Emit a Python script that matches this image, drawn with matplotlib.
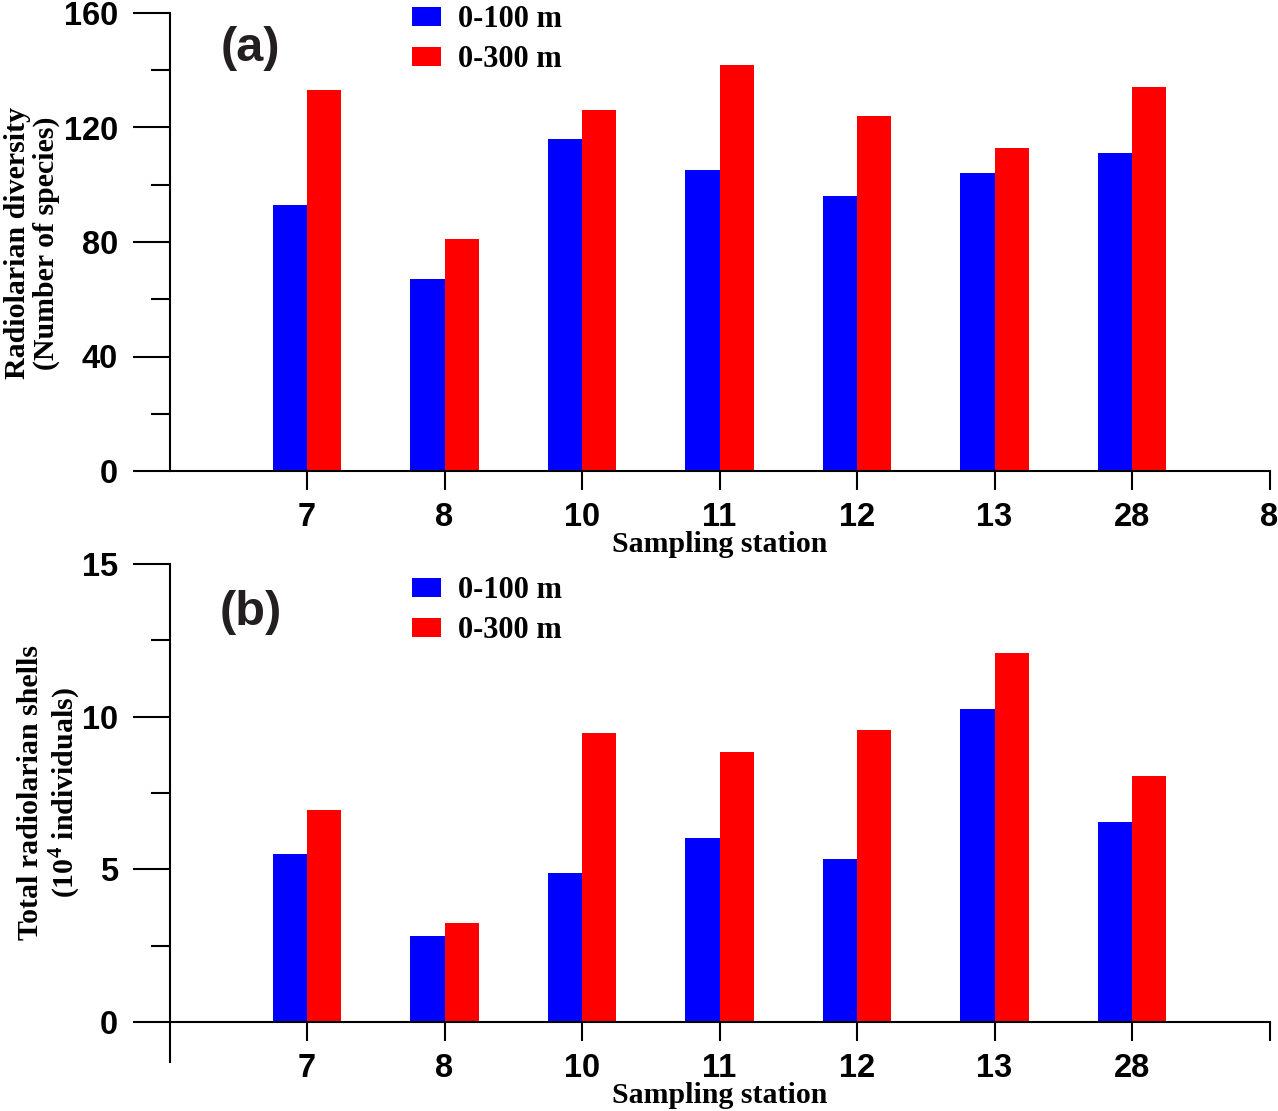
import matplotlib
matplotlib.use("Agg")
import matplotlib.pyplot as plt
from matplotlib.patches import Patch
from matplotlib.ticker import MultipleLocator

# data
stations = ["7", "8", "10", "11", "12", "13", "28"]
diversity_100 = [93, 67, 116, 105, 96, 104, 111]
diversity_300 = [133, 81, 126, 142, 124, 113, 134]
shells_100 = [5.50, 2.82, 4.88, 6.03, 5.34, 10.25, 6.55]
shells_300 = [6.94, 3.24, 9.47, 8.84, 9.56, 12.09, 8.06]
series_names = ["0-100 m", "0-300 m"]
top_ticklabels = stations + ["8"]
bottom_ticklabels = stations + [""]

plt.rcParams["mathtext.fontset"] = "custom"
plt.rcParams["mathtext.rm"] = "Liberation Serif:bold"
plt.rcParams["mathtext.bf"] = "Liberation Serif:bold"

tick_font = dict(family="Liberation Sans", weight="bold", size=23.5)
serif_font = dict(family="Liberation Serif", weight="bold", size=21.5)
blue = "#0000ff"
red = "#ff0000"
W = 1278
H = 1111

fig = plt.figure(figsize=(W / 100, H / 100), dpi=100)
ax1 = fig.add_axes([169.5 / W, 1 - 471 / H, 1100 / W, 458 / H])
ax2 = fig.add_axes([169.5 / W, 1 - 1062 / H, 1100 / W, 498 / H])

x = list(range(1, len(stations) + 1))
bw = 0.25


def style_axis(ax, ticklabels, major, minor):
    for s in ["top", "right"]:
        ax.spines[s].set_visible(False)
    for s in ["left", "bottom"]:
        ax.spines[s].set_linewidth(1.5)
    ax.set_xlim(0, 8)
    ax.set_xticks(range(1, 9))
    ax.set_xticklabels(ticklabels, **tick_font)
    ax.yaxis.set_major_locator(MultipleLocator(major))
    ax.yaxis.set_minor_locator(MultipleLocator(minor))
    ax.tick_params(axis="x", direction="out", length=14, width=1.5, pad=8)
    ax.tick_params(axis="y", which="major", direction="out", length=27, width=1.5, pad=10)
    ax.tick_params(axis="y", which="minor", direction="out", length=14, width=1.5)
    for lab in ax.get_yticklabels():
        lab.set_fontproperties(matplotlib.font_manager.FontProperties(**tick_font))
    ax.set_xlabel("Sampling station", labelpad=-1, **serif_font)


# (a) diversity
ax1.bar([i - bw / 2 for i in x], diversity_100, bw, color=blue, label=series_names[0])
ax1.bar([i + bw / 2 for i in x], diversity_300, bw, color=red, label=series_names[1])
ax1.set_ylim(0, 160)
style_axis(ax1, top_ticklabels, 40, 20)
ax1.text(0.59, 147.5, "(a)", color="#231f20", ha="center", va="center",
         family="Liberation Sans", weight="bold", size=35)

# (b) total shells
ax2.bar([i - bw / 2 for i in x], shells_100, bw, color=blue, label=series_names[0])
ax2.bar([i + bw / 2 for i in x], shells_300, bw, color=red, label=series_names[1])
ax2.set_ylim(-1.31, 15)
ax2.spines["bottom"].set_position(("data", 0))
ax2.spines["left"].set_bounds(-1.31, 15)
style_axis(ax2, bottom_ticklabels, 5, 2.5)
ax2.set_yticks([0, 5, 10, 15])
for lab in ax2.get_yticklabels():
    lab.set_fontproperties(matplotlib.font_manager.FontProperties(**tick_font))
ax2.text(0.59, 13.4, "(b)", color="#231f20", ha="center", va="center",
         family="Liberation Sans", weight="bold", size=35)

handles = [Patch(facecolor=blue), Patch(facecolor=red)]
leg_font = matplotlib.font_manager.FontProperties(family="Liberation Serif", weight="bold", size=22)
for ax, top in [(ax1, 1 - 5 / H), (ax2, 1 - 576 / H)]:
    ax.legend(handles, series_names, loc="upper left", bbox_to_anchor=(412 / W, top),
              bbox_transform=fig.transFigure, frameon=False, prop=leg_font,
              handlelength=0.95, handleheight=0.56, handletextpad=0.55,
              labelspacing=0.37, borderpad=0, borderaxespad=0)

fig.text(32 / W, 1 - 243 / H, "Radiolarian diversity\n(Number of species)",
         rotation=90, ha="center", va="center", ma="center", linespacing=1.1, **serif_font)
fig.text(50 / W, 1 - 793 / H, "Total radiolarian shells\n(10$^{4}$ individuals)",
         rotation=90, ha="center", va="center", ma="center", linespacing=1.1, **serif_font)

fig.savefig("out.png", dpi=100)
